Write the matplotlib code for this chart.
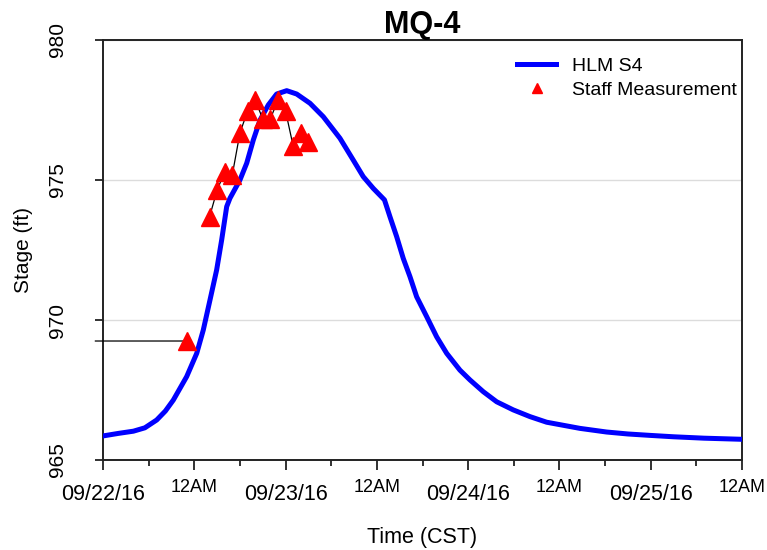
import numpy as np
import matplotlib
matplotlib.use("Agg")
import matplotlib.pyplot as plt
import matplotlib.transforms as mtransforms

plt.rcParams["font.family"] = ["Liberation Sans", "DejaVu Sans"]

# model output (hours after 09/22/16 label, stage in ft)
hlm_hours = [0, 2, 4, 5.5, 7.06, 8.2, 9.24, 11.0, 12.32, 13.18, 14.06, 14.94, 15.6,
             16.26, 16.69, 18.0, 18.89, 19.76, 20.64, 21.73, 22.83, 24.15, 25.46,
             27.21, 28.96, 31.15, 32.9, 34.21, 35.53, 37.0, 37.72, 38.6, 39.47, 40.35,
             41.23, 42.55, 43.86, 45.18, 46.92, 48.24, 49.99, 51.75, 53.93, 56.13,
             58.32, 62.7, 66.2, 69.0, 71.9, 75.0, 79.0, 84]
hlm_stage = [965.86, 965.95, 966.03, 966.15, 966.43, 966.75, 967.14, 967.98, 968.81,
             969.64, 970.71, 971.79, 972.86, 974.05, 974.35, 975.0, 975.6, 976.43,
             977.14, 977.68, 978.07, 978.19, 978.07, 977.74, 977.26, 976.49, 975.71,
             975.12, 974.7, 974.29, 973.69, 972.98, 972.2, 971.55, 970.83, 970.12,
             969.40, 968.81, 968.21, 967.86, 967.44, 967.08, 966.79, 966.55, 966.35,
             966.13, 966.0, 965.93, 965.88, 965.83, 965.78, 965.74]

# staff gauge readings
staff_hours = [11, 14, 15, 16, 17, 18, 19, 20, 21, 22, 23, 24, 25, 26, 27]
staff_stage = [969.25, 973.68, 974.64, 975.29, 975.19, 976.68, 977.46, 977.86,
               977.18, 977.18, 977.86, 977.46, 976.21, 976.68, 976.36]

tick_hours = [0, 12, 24, 36, 48, 60, 72, 84]
tick_labels = ["09/22/16", "12AM", "09/23/16", "12AM", "09/24/16", "12AM", "09/25/16", "12AM"]

fig = plt.figure(figsize=(7.67, 5.5), dpi=100)
ax = fig.add_axes([0.1343, 0.1636, 0.8331, 0.7637])

ax.plot(hlm_hours, hlm_stage, color="#0000ff", lw=3.6, label="HLM S4", zorder=3,
        solid_joinstyle="round")

# black connector: held level from left edge, then the later readings joined
line_x = [-1, staff_hours[0], np.nan] + staff_hours[1:]
line_y = [staff_stage[0], staff_stage[0], np.nan] + staff_stage[1:]
ax.plot(line_x, line_y, color="black", lw=0.9, zorder=4, clip_on=False)
ax.plot(staff_hours, staff_stage, ls="none", marker="^", ms=13, color="#ff0000",
        mec="#ff0000", label="Staff Measurement", zorder=5)

ax.set_xlim(0, 84)
ax.set_ylim(965, 980)
ax.set_yticks([965, 970, 975, 980])
ax.set_xticks(tick_hours)
ax.set_xticklabels([])
ax.set_xticks(np.arange(6, 84, 12), minor=True)

ax.grid(axis="y", color="#dcdcdc", lw=1)
ax.set_axisbelow(True)

for s in ax.spines.values():
    s.set_color("#222222")
    s.set_linewidth(1.4)

ax.tick_params(axis="x", which="major", length=7, width=1.3, color="#222222")
ax.tick_params(axis="x", which="minor", length=4, width=1.3, color="#222222")
ax.tick_params(axis="y", length=6, width=1.3, color="#222222", pad=20,
               labelsize=15, labelrotation=90)
for lab in ax.get_yticklabels():
    lab.set_va("center")

# alternating x labels: dates lower and larger, 12AM higher and smaller
trans = mtransforms.blended_transform_factory(ax.transData, ax.transAxes)
for h, txt in zip(tick_hours, tick_labels):
    if txt == "12AM":
        ax.text(h, -0.045, txt, transform=trans, ha="center", va="top", fontsize=13)
    else:
        ax.text(h, -0.057, txt, transform=trans, ha="center", va="top", fontsize=15.5)

ax.set_xlabel("Time (CST)", fontsize=15.5)
ax.xaxis.set_label_coords(0.5, -0.16)
ax.set_ylabel("Stage (ft)", fontsize=15)
ax.yaxis.set_label_coords(-0.11, 0.5)
ax.set_title("MQ-4", fontsize=22, fontweight="bold", pad=5)

ax.legend(loc="upper left", bbox_to_anchor=(0.648, 0.958), frameon=False,
          fontsize=14, borderaxespad=0, borderpad=0, handlelength=2.0,
          handletextpad=0.8, labelspacing=0.3, markerscale=0.55)

fig.savefig("out.png", dpi=100)
